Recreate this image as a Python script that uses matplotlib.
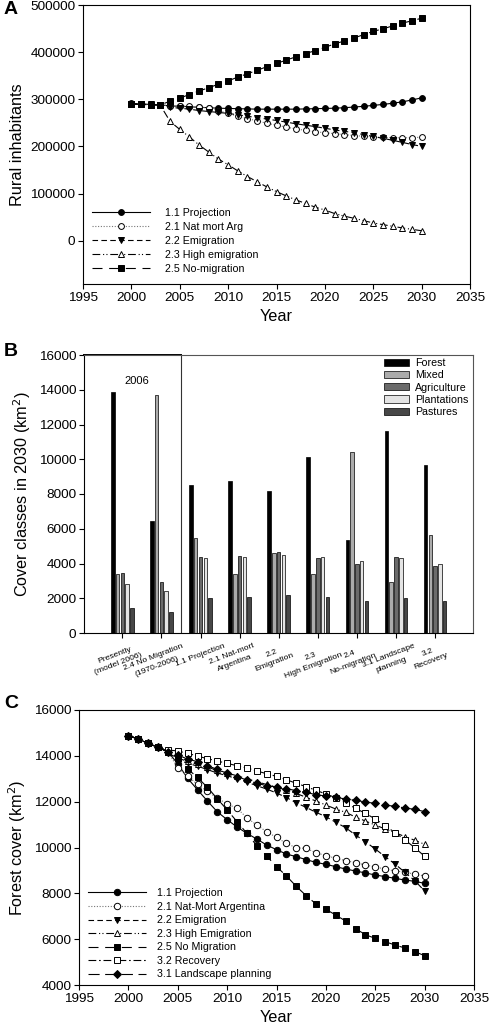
import matplotlib
matplotlib.use("Agg")
import matplotlib.pyplot as plt
import matplotlib.transforms as mtransforms
import numpy as np

plt.rcParams['font.family'] = ['Liberation Sans', 'DejaVu Sans']

# ---------------- Panel A data ----------------
years = list(range(2000, 2031))
a_projection = [291000, 290000, 289000, 288000, 286000, 285000, 284000, 283000, 282000, 281000,
                280500, 280000, 279500, 279000, 279000, 279000, 279000, 279000, 279500, 280000,
                280500, 281000, 282000, 283500, 285000, 287000, 289000, 291500, 294500, 298500, 303000]
a_natmort = [290000, 289500, 289000, 288000, 286000, 286000, 285000, 284000, 281000, 276000,
             270000, 264000, 259000, 254000, 249000, 245000, 241000, 237000, 234000, 231000,
             229000, 227000, 225000, 223000, 221500, 220000, 219000, 218500, 218000, 218500, 219500]
a_emigration = [290000, 289500, 289000, 288000, 283000, 281000, 279000, 276000, 274000, 272000,
                270000, 267000, 264000, 261000, 258000, 255000, 251500, 248000, 245000, 242000,
                238500, 235000, 232000, 229000, 225000, 221000, 217000, 213000, 208500, 204000, 200000]
a_high = [290000, 289000, 288000, 287000, 253000, 236000, 220000, 203000, 188000, 173000,
          161000, 148000, 136000, 125000, 114000, 104000, 95000, 86500, 79000, 71000,
          65000, 57500, 52000, 47500, 42500, 37500, 34000, 30500, 27000, 24000, 21000]
a_nomig = [290000, 289000, 288500, 288000, 296000, 302500, 310000, 317500, 324500, 332000,
           339000, 347000, 354000, 361500, 369000, 376000, 383000, 390000, 397000, 403000,
           410000, 417500, 423500, 430000, 437000, 444000, 449500, 455500, 461500, 466500, 472000]
a_labels = ["1.1 Projection", "2.1 Nat mort Arg", "2.2 Emigration",
            "2.3 High emigration", "2.5 No-migration"]

# ---------------- Panel B data ----------------
b_categories = ["Presently\n(model 2006)", "2.4 No Migration\n(1970-2006)", "1.1 Projection",
                "2.1 Nat-mort\nArgentina", "2.2\nEmigration", "2.3\nHigh Emigration",
                "2.4\nNo-migration", "3.1 Landscape\nplanning", "3.2\nRecovery"]
b_classes = ["Forest", "Mixed", "Agriculture", "Plantations", "Pastures"]
b_forest = [13870, 6420, 8490, 8770, 8160, 10130, 5330, 11650, 9650]
b_mixed = [3390, 13720, 5460, 3390, 4600, 3370, 10420, 2910, 5630]
b_agriculture = [3430, 2930, 4370, 4440, 4640, 4330, 3980, 4350, 3870]
b_plantations = [2800, 2410, 4310, 4370, 4500, 4350, 4120, 4290, 3980]
b_pastures = [1460, 1230, 2010, 2090, 2160, 2050, 1820, 2010, 1820]

# ---------------- Panel C data ----------------
c_projection = [14880, 14735, 14545, 14370, 14180, 13650, 13020, 12520, 12030, 11560,
                11215, 10895, 10620, 10370, 10110, 9905, 9715, 9600, 9470, 9350,
                9265, 9165, 9060, 8975, 8890, 8800, 8730, 8655, 8580, 8525, 8435]
c_natmort = [14880, 14735, 14545, 14370, 14180, 13480, 13120, 12750, 12450, 12150,
             11900, 11710, 11300, 10980, 10690, 10440, 10180, 9990, 9960, 9775,
             9645, 9530, 9425, 9340, 9235, 9150, 9060, 8975, 8930, 8830, 8760]
c_emigration = [14880, 14735, 14545, 14370, 14180, 13820, 13680, 13550, 13400, 13250,
                13130, 13000, 12850, 12700, 12550, 12380, 12180, 11950, 11750, 11535,
                11345, 11100, 10865, 10545, 10255, 9935, 9600, 9280, 8915, 8555, 8100]
c_high = [14880, 14735, 14545, 14370, 14180, 13900, 13760, 13630, 13500, 13370,
          13250, 13130, 13000, 12870, 12750, 12640, 12500, 12360, 12190, 12030,
          11855, 11680, 11535, 11330, 11155, 10980, 10810, 10650, 10475, 10315, 10140]
c_nomig = [14880, 14735, 14545, 14370, 14180, 13900, 13425, 13060, 12625, 12130,
           11640, 11130, 10620, 10080, 9630, 9165, 8760, 8305, 7900, 7535,
           7300, 7055, 6790, 6460, 6195, 6035, 5890, 5745, 5615, 5455, 5280]
c_recovery = [14880, 14735, 14545, 14370, 14260, 14210, 14110, 13990, 13875, 13775,
              13670, 13570, 13470, 13340, 13220, 13105, 12960, 12800, 12655, 12495,
              12335, 12175, 11940, 11710, 11490, 11245, 10950, 10650, 10330, 9995, 9615]
c_landscape = [14880, 14735, 14545, 14370, 14180, 14035, 13860, 13745, 13570, 13410,
               13235, 13090, 12945, 12800, 12700, 12640, 12570, 12480, 12410, 12300,
               12250, 12190, 12115, 12060, 11985, 11925, 11855, 11795, 11725, 11665, 11565]
c_labels = ["1.1 Projection", "2.1 Nat-Mort Argentina", "2.2 Emigration", "2.3 High Emigration",
            "2.5 No Migration", "3.2 Recovery", "3.1 Landscape planning"]

TICK_FS = 9.7
LAB_FS = 11.7
LEG_FS = 7.7

fig = plt.figure(figsize=(4.9, 10.3), dpi=100)

def style_axes(ax):
    for s in ax.spines.values():
        s.set_linewidth(0.8)
        s.set_color('black')
    ax.tick_params(direction='out', length=3.5, width=0.8, labelsize=TICK_FS,
                   top=False, right=False, pad=2)

# Line styles
ls_solid = '-'
ls_dot = (0, (1, 1.5))
ls_dash = (0, (5, 3))
ls_dashdotdot = (0, (7, 2.5, 1, 2, 1, 2.5))
ls_longdash = (0, (9, 6))
ls_dashdot = (0, (7, 2.5, 1.5, 2.5))
ls_longdash2 = (0, (10, 5))

# ---------------- Panel A ----------------
axA = fig.add_axes([83/490, 1-284/1030, 387/490, 279/1030])
style_axes(axA)
msA = 4.2
seriesA = [
    (a_projection, ls_solid, 'o', 'black', 'black'),
    (a_natmort, ls_dot, 'o', 'white', '#777777'),
    (a_emigration, ls_dash, 'v', 'black', 'black'),
    (a_high, ls_dashdotdot, '^', 'white', 'black'),
    (a_nomig, ls_longdash, 's', 'black', 'black'),
]
for (vals, ls, mk, fc, lc), lab in zip(seriesA, a_labels):
    axA.plot(years, vals, linestyle=ls, color=lc, lw=0.8, marker=mk, markersize=msA,
             markerfacecolor=fc, markeredgecolor='black', markeredgewidth=0.7, label=lab)
axA.set_xlim(1995, 2035)
axA.set_ylim(-92000, 500000)
axA.set_xticks(range(1995, 2036, 5))
axA.set_yticks(range(0, 500001, 100000))
axA.set_xlabel("Year", fontsize=LAB_FS, labelpad=4)
axA.set_ylabel("Rural inhabitants", fontsize=LAB_FS, labelpad=4)
axA.legend(loc='upper left', bbox_to_anchor=(0.023, 0.272), frameon=False, fontsize=LEG_FS,
           handlelength=5.4, handletextpad=1.4, labelspacing=0.37, borderpad=0, borderaxespad=0)

# ---------------- Panel B ----------------
axB = fig.add_axes([84/490, 1-633/1030, 389/490, 278/1030])
style_axes(axB)
b_series = [b_forest, b_mixed, b_agriculture, b_plantations, b_pastures]
b_colors = ['#000000', '#ababab', '#6b6b6b', '#e4e4e4', '#474747']
x = np.arange(len(b_categories))
pitch = 0.122
width = 0.09
for i, (vals, col, lab) in enumerate(zip(b_series, b_colors, b_classes)):
    axB.bar(x + (i - 2) * pitch, vals, width=width, color=col, edgecolor='black',
            linewidth=0.5, label=lab)
axB.set_xlim(-0.98, 8.97)
axB.set_ylim(0, 16000)
axB.set_yticks(range(0, 16001, 2000))
axB.set_xticks(x)
axB.set_xticklabels(b_categories, rotation=21, ha='center', fontsize=6.1,
                    multialignment='center', linespacing=1.45)
axB.tick_params(axis='x', pad=3.5)
shift = mtransforms.ScaledTranslation(-6/100, 0, fig.dpi_scale_trans)
for lbl in axB.get_xticklabels():
    if '\n' in lbl.get_text():
        lbl.set_transform(lbl.get_transform() + shift)
axB.set_ylabel("Cover classes in 2030 (km$^2$)", fontsize=LAB_FS, labelpad=4)
for s in ['top', 'right']:
    axB.spines[s].set_color('#555555')
axB.plot([-0.98, 1.5], [16000, 16000], color='black', lw=1.4, clip_on=False)
axB.axvline(1.5, color='#333333', lw=0.8)
axB.text(0.38, 14500, "2006", fontsize=8, ha='center', va='center')
axB.legend(loc='upper left', bbox_to_anchor=(0.771, 0.988), frameon=False, fontsize=LEG_FS,
           handlelength=2.3, handleheight=0.65, handletextpad=0.6, labelspacing=0.2,
           borderpad=0, borderaxespad=0)

# ---------------- Panel C ----------------
axC = fig.add_axes([79/490, 1-985/1030, 395/490, 275/1030])
style_axes(axC)
msC = 4.6
seriesC = [
    (c_projection, ls_solid, 'o', 'black', 'black', msC),
    (c_natmort, ls_dot, 'o', 'white', '#777777', msC),
    (c_emigration, ls_dash, 'v', 'black', 'black', msC),
    (c_high, ls_dashdotdot, '^', 'white', 'black', msC),
    (c_nomig, ls_longdash, 's', 'black', 'black', msC),
    (c_recovery, ls_dashdot, 's', 'white', 'black', msC),
    (c_landscape, ls_longdash2, 'D', 'black', 'black', msC - 0.3),
]
for (vals, ls, mk, fc, lc, ms), lab in zip(seriesC, c_labels):
    axC.plot(years, vals, linestyle=ls, color=lc, lw=0.8, marker=mk, markersize=ms,
             markerfacecolor=fc, markeredgecolor='black', markeredgewidth=0.7, label=lab)
axC.set_xlim(1995, 2035)
axC.set_ylim(4000, 16000)
axC.set_xticks(range(1995, 2036, 5))
axC.set_yticks(range(4000, 16001, 2000))
axC.set_xlabel("Year", fontsize=LAB_FS, labelpad=4)
axC.set_ylabel("Forest cover (km$^2$)", fontsize=LAB_FS, labelpad=4)
axC.legend(loc='upper left', bbox_to_anchor=(0.023, 0.352), frameon=False, fontsize=LEG_FS,
           handlelength=5.4, handletextpad=1.0, labelspacing=0.33, borderpad=0, borderaxespad=0)

# Panel letters
fig.text(4/490, 1-10/1030, "A", fontsize=14, fontweight='bold', va='center', ha='left')
fig.text(4/490, 1-351/1030, "B", fontsize=14, fontweight='bold', va='center', ha='left')
fig.text(4/490, 1-703/1030, "C", fontsize=14, fontweight='bold', va='center', ha='left')

fig.savefig("out.png", dpi=100)
